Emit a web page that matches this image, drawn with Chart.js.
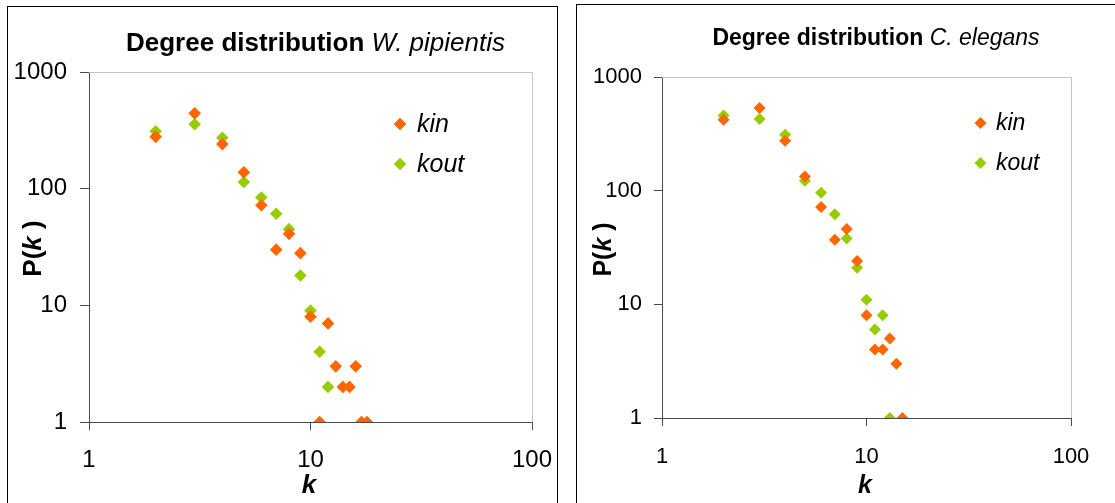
<!DOCTYPE html>
<html><head><meta charset="utf-8">
<script src="https://cdn.jsdelivr.net/npm/chart.js@4.4.0/dist/chart.umd.min.js"></script>
<style>
html,body{margin:0;padding:0;background:#fff;overflow:hidden;}
body{width:1115px;height:503px;position:relative;}
.box{position:absolute;border:1px solid #000;box-sizing:border-box;}
#boxL{left:7px;top:6px;width:551px;height:520px;}
#boxR{left:576px;top:4px;width:560px;height:520px;}
canvas{position:absolute;top:0;}
#cL{left:0;}
#cR{left:560px;}
</style></head><body>
<div class="box" id="boxL"></div><div class="box" id="boxR"></div>
<canvas id="cL" width="560" height="503"></canvas>
<canvas id="cR" width="555" height="503"></canvas>
<script>
// ---- Data: W. pipientis ----
const wpKinK  = [2,3,4,5,6,7,8,9,10,11,12,13,14,15,16,17,18];
const wpKinP  = [278,442,241,138,72,30,41,28,8,1,7,3,2,2,3,1,1];
const wpKoutK = [2,3,4,5,6,7,8,9,10,11,12];
const wpKoutP = [311,357,273,114,84,61,45,18,9,4,2];
// ---- Data: C. elegans ----
const ceKinK  = [2,3,4,5,6,7,8,9,10,11,12,13,14,15];
const ceKinP  = [421,534,275,133,72,37,46,24,8,4,4,5,3,1];
const ceKoutK = [2,3,4,5,6,7,8,9,10,11,12,13];
const ceKoutP = [459,427,310,122,96,62,38,21,11,6,8,1];
// ---- Tick labels ----
const xTicks = [1,10,100];
const yTicks = [1,10,100,1000];
const seriesNames = ['kin','kout'];
const seriesColors = ['#FF6600','#99CC00'];

const FONT = '"Liberation Sans", Arial, Helvetica, sans-serif';

function pts(ks, ps){ return ks.map((k,i)=>({x:k, y:ps[i]})); }

function drawMixed(ctx, parts, cx, y){
  let total = 0;
  parts.forEach(p=>{ ctx.font = p.font; p.w = ctx.measureText(p.text).width; total += p.w; });
  let x = cx - total/2;
  ctx.textAlign = 'left'; ctx.textBaseline = 'alphabetic';
  parts.forEach(p=>{ ctx.font = p.font; ctx.fillText(p.text, x, y); x += p.w; });
}

const decor = {
  id: 'decor',
  beforeDatasetsDraw(chart){
    const ctx = chart.ctx, a = chart.chartArea;
    ctx.save();
    ctx.strokeStyle = '#c4c4c4'; ctx.lineWidth = 1;
    const t = Math.round(a.top) + 0.5, r = Math.round(a.right) + 0.5;
    ctx.beginPath();
    ctx.moveTo(a.left, t); ctx.lineTo(r, t); ctx.lineTo(r, a.bottom);
    ctx.stroke();
    ctx.restore();
  },
  afterDraw(chart, args, o){
    const ctx = chart.ctx;
    ctx.save();
    ctx.fillStyle = '#000';
    // title
    drawMixed(ctx, [
      {text:'Degree distribution ', font:'bold '+o.titleSize+'px '+FONT},
      {text:o.species, font:'italic '+o.titleSize+'px '+FONT}
    ], o.titleX, o.titleY);
    // x axis title
    drawMixed(ctx, [{text:'k', font:'italic bold '+o.axSize+'px '+FONT}], o.kx, o.ky);
    // y axis title
    ctx.save();
    ctx.translate(o.px, o.py);
    ctx.rotate(-Math.PI/2);
    drawMixed(ctx, [
      {text:'P(', font:'bold '+o.axSize+'px '+FONT},
      {text:'k', font:'italic bold '+o.axSize+'px '+FONT},
      {text:' )', font:'bold '+o.axSize+'px '+FONT}
    ], 0, 0);
    ctx.restore();
    // legend
    chart.data.datasets.forEach((ds,i)=>{
      const cx = o.legX, cy = o.legY + i*o.legGap, r = o.legR;
      ctx.fillStyle = ds.backgroundColor;
      ctx.beginPath();
      ctx.moveTo(cx - r, cy); ctx.lineTo(cx, cy - r); ctx.lineTo(cx + r, cy); ctx.lineTo(cx, cy + r);
      ctx.closePath(); ctx.fill();
      ctx.fillStyle = '#000';
      ctx.font = 'italic '+o.legSize+'px '+FONT;
      ctx.textAlign = 'left'; ctx.textBaseline = 'middle';
      ctx.fillText(ds.label, o.legTextX, cy + 1);
    });
    ctx.restore();
  }
};

function makeChart(id, kin, kout, L){
  const datasets = [kin, kout].map((d,i)=>({
    label: seriesNames[i], data: d,
    backgroundColor: seriesColors[i], borderColor: seriesColors[i],
    pointStyle: 'rectRot', pointRadius: L.r, pointBorderWidth: 0, pointHoverRadius: L.r
  }));
  return new Chart(document.getElementById(id), {
    type: 'scatter',
    data: {datasets},
    plugins: [decor],
    options: {
      responsive: false, animation: false, devicePixelRatio: 1,
      events: [],
      layout: {padding: {left:0, top:L.top, right:L.right, bottom:0}},
      plugins: {legend:{display:false}, title:{display:false}, tooltip:{enabled:false}, decor: L.decor},
      scales: {
        x: {
          type: 'logarithmic', min: 1, max: 100,
          afterBuildTicks: s => { s.ticks = xTicks.map(v=>({value:v})); },
          afterFit: s => { s.height = L.xh; s.paddingLeft = 0; s.paddingRight = 0; },
          ticks: {callback: v => String(v), color:'#000', padding: L.xpad, maxRotation:0, autoSkip:false,
                  font:{family:FONT, size:L.tick}},
          grid: {drawOnChartArea:false, drawTicks:true, tickLength:8, color:'#4a4a4a'},
          border: {display:true, color:'#4a4a4a', width:1}
        },
        y: {
          type: 'logarithmic', min: 1, max: 1000,
          afterBuildTicks: s => { s.ticks = yTicks.map(v=>({value:v})); },
          afterFit: s => { s.width = L.yw; s.paddingTop = 0; s.paddingBottom = 0; },
          ticks: {callback: v => String(v), color:'#000', padding: L.ypad, autoSkip:false,
                  font:{family:FONT, size:L.tick}},
          grid: {drawOnChartArea:false, drawTicks:true, tickLength:L.ytl, color:'#4a4a4a'},
          border: {display:true, color:'#4a4a4a', width:1}
        }
      }
    }
  });
}

makeChart('cL', pts(wpKinK, wpKinP), pts(wpKoutK, wpKoutP), {
  r:6.3, top:72, right:28, xh:81, yw:89, xpad:16, ypad:13, ytl:9, tick:24,
  decor:{species:'W. pipientis', titleSize:26, titleX:315.5, titleY:51,
         axSize:26, kx:309, ky:493, px:41, py:248.5,
         legX:400, legY:124, legGap:40, legR:6.3, legTextX:417, legSize:25}
});
makeChart('cR', pts(ceKinK, ceKinP), pts(ceKoutK, ceKoutP), {
  r:6, top:77, right:44, xh:85, yw:102, xpad:18, ypad:12, ytl:8, tick:22,
  decor:{species:'C. elegans', titleSize:23, titleX:316, titleY:45,
         axSize:25, kx:305, ky:493, px:51, py:249.5,
         legX:420.5, legY:123, legGap:40, legR:6, legTextX:436, legSize:23}
});
</script>
</body></html>
